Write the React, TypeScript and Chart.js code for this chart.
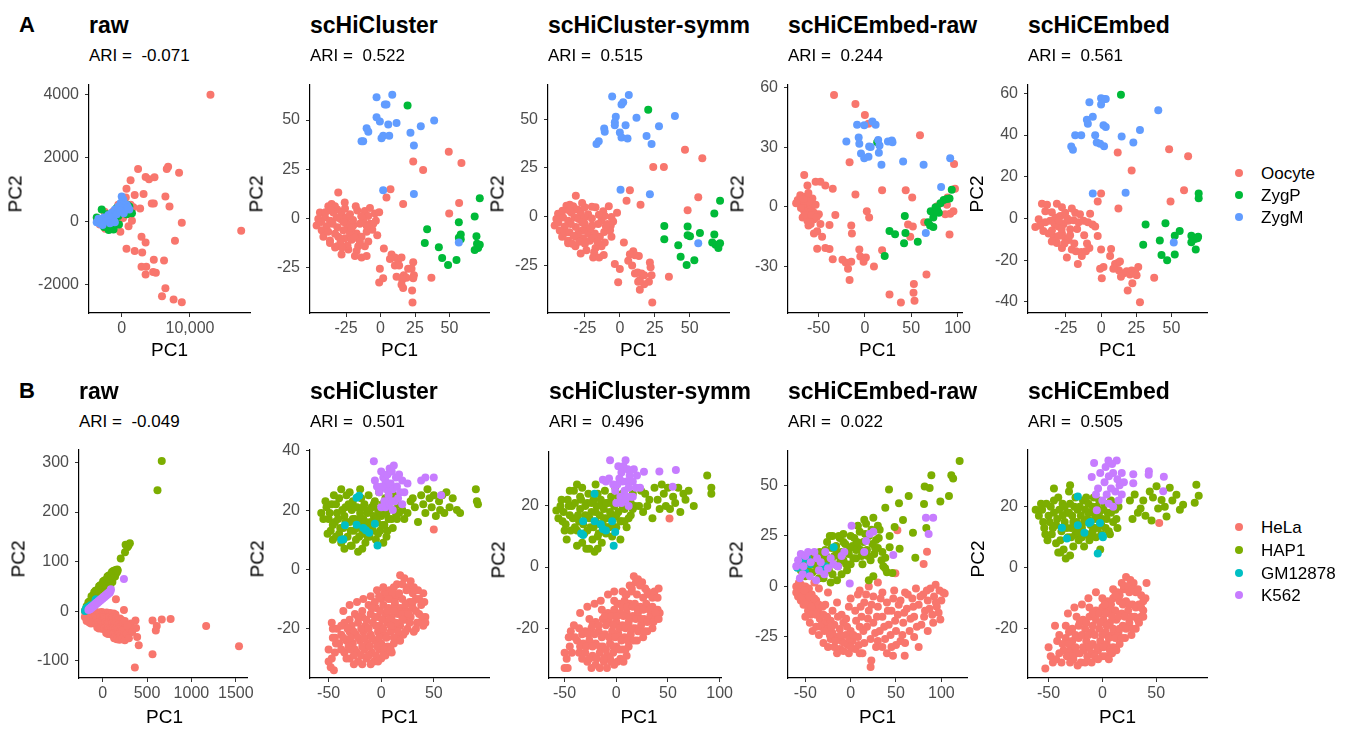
import React, { useEffect, useRef } from "react";
import { Chart, registerables } from "chart.js";
Chart.register(...registerables);

type P = [number, number];

const classesA = ["Oocyte", "ZygP", "ZygM"];
const classesB = ["HeLa", "HAP1", "GM12878", "K562"];
const methods = ["raw", "scHiCluster", "scHiCluster-symm", "scHiCEmbed-raw", "scHiCEmbed"];
const ariA = ["-0.071", "0.522", "0.515", "0.244", "0.561"];
const ariB = ["-0.049", "0.501", "0.496", "0.022", "0.505"];

// ---------------- Row A ----------------
// A1 raw
const a1Oocyte: P[] = [[13000,4000],[17500,-300],[2400,1650],[6600,1650],[6800,1720],[8400,1530],[1300,1300],[3500,1400],[4000,1330],[4800,1390],[700,1030],[1900,830],[3200,860],[600,750],[6400,780],[4400,560],[4700,560],[7000,470],[1700,440],[2700,400],[1300,520],[8800,-50],[1500,20],[1200,220],[-500,520],[-1200,320],[-500,-60],[-200,-330],[-1500,-150],[1000,-160],[2900,-490],[3500,-670],[700,-870],[1900,-940],[3000,-990],[7800,-620],[6200,-1240],[4700,-1220],[2900,-1440],[3600,-1440],[3500,-1680],[4600,-1600],[5000,-1630],[6400,-2120],[5900,-2370],[7600,-2470],[8800,-2560],[-2500,300],[-1800,120],[-3200,-100],[-800,240],[200,100],[-3600,20],[-2400,-240],[600,320]];
const a1ZygP: P[] = [[-3660,120],[-3170,-30],[-2440,-80],[-2200,220],[-1460,120],[-980,20],[-490,170],[150,300],[780,520],[1120,470],[-2930,370],[-1710,70],[-980,-130],[-2290,0],[-730,420],[730,220],[-2590,-180],[-1900,-280],[-1200,-260],[-400,-100],[1500,250]];
const a1ZygM: P[] = [[-3660,-30],[-3170,70],[-2590,120],[-1950,200],[-1460,270],[-980,370],[-490,470],[-150,580],[240,680],[730,520],[1120,370],[-2200,20],[-1220,120],[-730,220],[-3170,-80],[0,780],[490,420],[-1710,-60],[-2800,-120],[-3400,80],[-200,330],[300,250],[900,450],[-1000,-30]];
const a1XRange = [-4790, 18790];
const a1YRange = [-2900, 4320];
const a1XTicks = [0, 10000];
const a1XLabels = ["0", "10,000"];
const a1YTicks = [-2000, 0, 2000, 4000];
const a1YLabels = ["-2000", "0", "2000", "4000"];

// A2 scHiCluster
const a2Oocyte: P[] = [[49.5,33.8],[58.7,28.1],[23.7,28.9],[30.9,24.5],[7.2,14.7],[4.3,10.5],[16.4,7.2],[57,7.7],[49.8,2.3],
[-30.7,13.1],[-35.5,7.2],[-33.1,6.0],[-31.4,4.4],[-28.3,2.8],[-25.8,4.9],[-44.0,2.8],[-40.3,0.3],[-36.7,-1.3],[-31.9,0.3],[-29.0,-0.5],[-24.6,0.3],[-22.2,2.0],[-16.9,3.9],[-11.4,3.6],[-7.7,5.2],[-4.1,2.3],[-8.9,1.1],[-12.6,-1.3],[-15.0,-2.9],[-19.8,-3.8],[-23.4,-5.4],[-27.0,-6.2],[-31.4,-4.6],[-34.8,-2.9],[-39.1,-4.2],[-42.7,-6.2],[-46.4,-3.8],[-41.5,-9.5],[-36.7,-11.4],[-30.7,-9.5],[-25.8,-10.3],[-22.2,-7.8],[-17.4,-7.8],[-13.8,-9.5],[-10.1,-7.0],[-7.7,-2.9],[-3.4,-1.3],[-2.4,-8.7],[-8.9,-11.9],[-11.4,-14.4],[-16.2,-14.4],[-17.4,-16.8],[-18.6,-19.3],[-13.8,-20.1],[-10.1,-19.3],[-23.4,-16.0],[-28.3,-18.5],[-31.4,-14.4],[-36.7,-12.7],[-21.0,-11.1],[-5.3,-2.9],[-24.6,-2.9],[-34.3,2.8],[-37.9,6.0],[-45.2,-0.5],
[-38,-7],[-33,-8],[-27,-2],[-20,-1],[-14,1],[-18,6],[-26,8],[-21,-5],[-29,-12],[-33,-15],[-40,3],[-43,-2],[-24,-14],[-19,-10],[-6,-6],[-1,3],[-36,4],[-28,-15],[-15,-12],[-10,-4],
[2.4,-15.5],[-0.5,-25.8],[-1.0,-32.8],[1.9,-30.7],[8.0,-18.5],[10.4,-20.1],[12.8,-21.2],[15.2,-20.1],[10.4,-24.2],[13.5,-24.2],[16.9,-29.1],[18.8,-30.4],[20.0,-25.8],[15.7,-31.5],[16.4,-35.6],[23.7,-22.5],[22.5,-25.8],[24.2,-29.1],[23.7,-30.7],[22.9,-36.9],[23.2,-43.0],[36.9,-30.4],[6.8,-20.9],[15.2,-34.0],[11.6,-29.9]];
const a2ZygP: P[] = [[19.6,57.5],[72.0,10.1],[68.3,0.8],[56.8,-2.1],[33.8,-5.7],[32.1,-12.7],[42.3,-14.9],[56.8,-10.0],[58.2,-10.8],[58.2,-8.3],[69.6,-9.2],[70.0,-13.1],[70.8,-15.2],[68.3,-16.3],[72.0,-13.6],[44.7,-20.4],[49.0,-23.9],[55.1,-21.4]];
const a2ZygM: P[] = [[-2.9,61.6],[8.5,62.9],[3.1,58.0],[4.3,58.0],[-2.9,51.5],[-0.5,49.3],[5.6,47.7],[11.6,48.5],[-10.1,45.8],[-8.9,44.1],[-12.6,39.2],[-13.8,39.2],[0.7,40.7],[1.9,42.0],[6.3,42.0],[21.7,43.6],[29.2,46.9],[38.9,49.8],[24.2,37.1],[1.9,14.2],[24.2,12.3],[56.8,-12.4]];
const a2XRange = [-51.2, 78.7];
const a2YRange = [-48.4, 68.1];
const a2XTicks = [-25, 0, 25, 50];
const a2XLabels = ["-25", "0", "25", "50"];
const a2YTicks = [-25, 0, 25, 50];
const a2YLabels = ["-25", "0", "25", "50"];

// A3 scHiCluster-symm
const a3Oocyte: P[] = [[46.6,34.4],[59.0,30.0],[23.9,25.5],[31.5,25.5],[7.2,13.5],[4.8,8.1],[14.8,6.1],[56.1,9.9],[48.5,3.3],
[-31.5,10.7],[-35.8,6.1],[-33.4,5.3],[-30.3,3.6],[-28.0,2.0],[-25.1,4.8],[-44.2,1.5],[-40.6,-0.5],[-37.0,-2.1],[-32.3,-0.5],[-29.4,-1.3],[-25.1,-0.5],[-22.7,1.2],[-17.4,4.8],[-11.9,2.8],[-7.9,5.3],[-6.0,-0.2],[-10.8,0.3],[-13.1,-2.1],[-15.5,-3.8],[-19.8,-4.6],[-23.9,-6.3],[-27.0,-7.1],[-31.5,-5.4],[-35.1,-3.8],[-39.4,-5.1],[-43.0,-7.1],[-46.6,-4.6],[-41.3,-10.4],[-37.0,-12.4],[-31.1,-10.4],[-26.3,-11.2],[-22.7,-8.7],[-17.9,-8.7],[-14.3,-10.4],[-11.2,-7.9],[-8.8,-3.8],[-4.8,-2.5],[-6.0,-10.4],[-10.8,-13.3],[-13.1,-15.3],[-17.4,-16.2],[-18.4,-18.3],[-19.1,-21.1],[-14.8,-21.1],[-11.5,-19.8],[-23.9,-17.3],[-28.0,-19.0],[-31.8,-15.3],[-37.0,-13.7],[-21.5,-12.4],[-6.5,-4.6],[-25.1,-3.8],[-34.6,2.0],[-38.2,5.6],[-45.4,-1.3],[-39.4,-8.4],
[-36,-8],[-30,-9],[-27,-3],[-20,-1],[-15,1],[-20,5],[-27,7],[-21,-6],[-29,-13],[-34,-14],[-41,3],[-44,-3],[-25,-14],[-19,-11],[-7,-7],[-2,2],[-36,3],[-16,-13],[-10,-5],[-33,-10],
[2.9,-13.3],[-3.6,-24.4],[-1.2,-33.8],[0,-26.9],[6.0,-22.7],[9.6,-17.8],[10.8,-19.9],[13.6,-20.3],[8.8,-25.2],[10.8,-29.3],[12.7,-28.8],[15.5,-29.3],[17.4,-30.2],[14.3,-32.6],[14.3,-37.6],[21.5,-23.6],[22.0,-26.0],[22.7,-30.2],[20.8,-33.5],[17.4,-34.8],[23.2,-44.2],[35.1,-31.0],[7.2,-19.4],[13.1,-33.5]];
const a3ZygP: P[] = [[20.3,55.0],[71.7,8.2],[67.6,1.6],[48.5,-5.1],[31.8,-4.9],[31.8,-11.7],[41.8,-14.8],[48.5,-9.6],[50.2,-10.1],[57.3,-8.4],[67.6,-9.2],[66.1,-13.3],[68.5,-14.5],[70.5,-16.2],[71.7,-13.7],[43.5,-20.6],[47.8,-24.9],[53.3,-22.4]];
const a3ZygM: P[] = [[-5.5,61.8],[6.4,62.6],[2.4,58.8],[1.2,57.7],[-2.9,51.4],[-3.6,48.5],[4.1,47.0],[11.9,50.9],[-11.2,45.3],[-10.8,43.7],[-15.1,38.7],[-16.7,37.4],[0,43.2],[1.2,40.7],[5.5,40.2],[19.1,41.5],[28.0,46.5],[39.4,51.7],[22.7,37.4],[0.5,13.8],[21.5,11.5],[56.1,-13.7],[-3.6,47.0]];
const a3XRange = [-51.4, 78.1];
const a3YRange = [-49.6, 67.9];
const a3XTicks = [-25, 0, 25, 50];
const a3XLabels = ["-25", "0", "25", "50"];
const a3YTicks = [-25, 0, 25, 50];
const a3YLabels = ["-25", "0", "25", "50"];

// A4 scHiCEmbed-raw
const a4Oocyte: P[] = [[-33.3,56.2],[-10.2,51.7],[0,46.1],[3.9,41.8],[59.5,36.0],[96.3,21.5],[-16.5,22.5],[-65.5,16.1],[-53.2,12.7],[-48.0,12.7],[-42.7,10.8],[-34.7,9.2],[-62.0,10.8],[-69.7,5.9],[-72.5,3.5],[18.6,8.4],[-10.2,6.3],[44.1,8.4],[51.1,4.8],[-31.9,-4.0],[2.1,-2.1],[4.6,-5.3],[-38.2,-9.0],[-14.7,-9.3],[-14.0,-13.3],[46.6,-8.8],[51.8,-9.8],[49.0,-14.9],[89.3,4.7],[88.6,1.1],[92.1,-3.4],[86.8,-3.7],[95.6,-2.1],[91.4,-13.8],[-60.9,-9.3],[-51.5,-12.2],[-46.2,-14.9],[-51.5,-20.9],[-42.7,-20.6],[-38.2,-21.1],[-34.7,-26.2],[-24.2,-26.5],[-20.7,-27.8],[-14.7,-27.5],[-18.2,-31.0],[-16.5,-36.6],[-6.0,-21.4],[-4.9,-24.9],[1.1,-25.4],[-1.4,-27.5],[9.8,-29.9],[18.6,-21.7],[26.6,-43.9],[38.9,-47.9],[52.9,-38.7],[52.5,-43.1],[53.6,-47.1],[66.5,-33.9],[64.1,-7.7],[78.1,0.3],[97.3,9.2],
[-69.0,2.7],[-65.5,1.1],[-62.0,-0.5],[-58.5,1.1],[-65.5,-2.1],[-60.2,-2.9],[-56.7,4.3],[-67.2,-5.3],[-62.0,-6.9],[-55.0,-6.1],[-56.7,-2.1],[-53.2,1.1],[-69.0,-0.5],[-63.7,5.1],[-49.7,-3.7],[-48.0,-8.5],[-58.5,-8.5],[-74.2,1.9],[-60.2,2.7],[-55.0,-2.9],[-55.0,-13.3],[-64,-4],[-58,-4],[-52,-5],[-66,4],[-61,7]];
const a4ZygP: P[] = [[13.3,32.5],[26.6,-12.1],[32.6,-13.7],[43.1,-4.5],[43.8,-13.0],[42.3,-18.2],[57.1,-17.4],[21.4,-24.6],[68.3,-7.7],[70.4,-9.3],[73.9,-10.1],[71.1,-2.1],[74.6,-2.9],[76.3,-0.2],[79.8,-2.9],[81.6,1.9],[85.1,3.5],[88.6,4.0],[91.4,4.3],[93.8,8.7],[73.9,-5.3],[77.9,-1.3]];
const a4ZygM: P[] = [[-8.4,41.3],[-0.7,41.0],[8.1,42.9],[11.6,41.3],[-20.0,32.8],[-6.7,34.9],[-6.0,31.7],[-4.2,26.8],[-0.7,24.4],[3.9,25.2],[4.6,30.4],[14.4,33.6],[15.8,30.9],[15.1,27.2],[17.9,21.2],[24.9,32.9],[29.1,33.3],[29.8,32.5],[41.3,22.8],[63.4,21.2],[82.3,10.0],[92.1,24.4],[65.8,-13.0],[6.3,30.1]];
const a4XRange = [-83, 105];
const a4YRange = [-53.2, 61.4];
const a4XTicks = [-50, 0, 50, 100];
const a4XLabels = ["-50", "0", "50", "100"];
const a4YTicks = [-30, 0, 30, 60];
const a4YLabels = ["-30", "0", "30", "60"];

// A5 scHiCEmbed
const a5Oocyte: P[] = [[48.3,33.2],[61.8,29.9],[21.7,23.0],[11.8,31.6],[58.9,13.5],[49.3,8.1],[0,12.0],[-2.4,8.1],[12.3,4.8],
[-42.0,7.1],[-38.4,6.6],[-31.4,7.1],[-27.8,5.4],[-20.8,4.8],[-39.6,3.5],[-44.3,-0.3],[-46.7,-4.1],[-39.6,-1.8],[-36.1,-1.1],[-32.5,0.5],[-29.0,1.2],[-25.5,2.8],[-33.0,-2.6],[-30.2,-3.8],[-26.6,-2.6],[-23.1,-1.1],[-19.6,-0.8],[-16.0,-1.8],[-12.5,-1.1],[-7.8,2.3],[-9.4,-1.8],[-6.1,-2.9],[-4.2,-3.8],[-2.4,-8.4],[-37.3,-7.2],[-33.7,-8.7],[-30.2,-8.4],[-27.8,-7.2],[-25.5,-9.5],[-23.1,-10.3],[-31.4,-11.8],[-27.8,-14.1],[-20.8,-14.9],[-17.9,-15.7],[-14.1,-16.1],[-10.8,-15.7],[-8.3,-14.1],[-24.3,-18.7],[-16.5,-21.8],[-13.7,-18.0],[-21.9,-5.2],[-34.9,-5.7],[-43.2,-3.4],[-18.4,2.8],
[-35,3],[-28,-5],[-22,-8],[-17,-5],[-12,-8],[-26,-12],[-19,-12],[-41,-6],[-30,-1],[-15,2],[-10,-12],[-35,-11],[-24,0],
[0,-14.9],[-0.7,-24.1],[0.5,-28.7],[1.7,-23.3],[7.1,-14.6],[6.4,-18.0],[9.9,-21.8],[11.8,-21.3],[13.4,-20.6],[12.7,-24.9],[15.8,-26.4],[14.1,-27.9],[18.2,-25.3],[20.5,-26.9],[21.7,-24.9],[24.1,-25.3],[25.2,-27.2],[22.2,-31.0],[18.9,-34.5],[26.4,-23.3],[37.7,-28.4],[27.6,-40.2],[8.7,-24.1]];
const a5ZygP: P[] = [[14.1,59.3],[69.3,12.0],[69.3,9.7],[31.6,-2.9],[45.7,-2.3],[29.9,-12.6],[41.7,-10.6],[52.3,-8.3],[55.8,-6.0],[64.1,-8.3],[66.5,-9.8],[68.4,-9.5],[64.1,-11.4],[67.2,-14.9],[42.9,-17.5],[46.9,-20.0],[52.3,-17.2],[68.9,-8.7]];
const a5ZygM: P[] = [[-8.3,55.7],[0,57.6],[1.7,57.3],[3.3,57.3],[0,54.6],[-10.1,47.3],[-9.4,45.4],[-5.9,48.8],[-18.4,39.9],[-14.1,39.9],[-21.2,34.5],[-20.0,33.0],[-4.2,39.9],[-3.1,36.5],[-0.7,35.8],[1.7,44.7],[3.3,43.9],[2.1,34.7],[14.6,39.3],[22.9,36.5],[27.6,42.4],[40.6,51.9],[-5.9,12.0],[17.4,12.3],[51.6,-11.5]];
const a5XRange = [-51.9, 75.2];
const a5YRange = [-45.3, 64.2];
const a5XTicks = [-25, 0, 25, 50];
const a5XLabels = ["-25", "0", "25", "50"];
const a5YTicks = [-40, -20, 0, 20, 40, 60];
const a5YLabels = ["-40", "-20", "0", "20", "40", "60"];

// ---------------- Row B ----------------
// B1 raw
const b1HeLa: P[] = [[-195,-3],[-175,-2],[-155,-4],[-135,-2],[-115,-3],[-95,-4],[-75,-2],[-55,-3],[-35,-4],[-15,-2],[5,-3],[25,-4],[45,-3],[65,-5],[85,-4],[105,-6],[125,-5],[145,-7],
[-200,-12],[-185,-14],[-165,-12],[-145,-13],[-125,-14],[-105,-12],[-85,-13],[-65,-14],[-45,-12],[-25,-13],[-5,-14],[15,-12],[35,-13],[55,-14],[75,-12],[95,-15],[115,-13],[135,-16],[155,-14],[175,-17],[195,-15],[215,-18],
[-180,-20],[-150,-23],[-130,-25],[-110,-23],[-90,-24],[-70,-26],[-50,-23],[-30,-25],[-10,-24],[10,-26],[30,-23],[50,-25],[70,-24],[90,-26],[110,-24],[130,-27],[150,-25],[170,-28],[190,-26],[210,-29],[230,-25],
[-60,-33],[-40,-35],[-20,-34],[0,-36],[20,-35],[40,-37],[60,-34],[80,-36],[100,-38],[120,-35],[140,-37],[160,-39],[180,-36],[200,-40],[220,-38],
[40,-44],[60,-46],[80,-45],[100,-47],[120,-46],[140,-48],[160,-50],[180,-47],[200,-51],[240,-48],
[130,-55],[160,-57],[190,-58],[220,-56],[250,-59],
[250,-20],[270,-45],[300,-35],[320,-25],
[150,24],[240,2],[370,-19],[377,-34],[389,-52],[407,-69],[562,-19],[610,-30],[599,-39],[666,-17],[766,-16],[1166,-30],[1536,-71],[562,-87],[363,-114],[278,-29],[333,-42],[296,-55]];
const b1HAP1: P[] = [[-198,1],[-190,3],[-180,5],[-170,7],
[-180,10],[-165,12],[-150,10],[-135,13],[-120,14],
[-160,18],[-145,20],[-130,21],[-115,22],[-100,23],[-85,24],[-70,25],[-55,24],
[-125,30],[-110,31],[-95,32],[-80,33],[-65,33],[-50,34],[-35,35],[-20,35],[-5,36],[10,37],[25,38],[40,38],
[-95,38],[-80,41],[-65,42],[-50,43],[-35,44],[-20,45],[-5,46],[10,46],[25,47],[40,47],[55,48],[70,48],[85,49],
[-40,50],[-25,52],[-10,53],[5,54],[20,55],[35,56],[50,56],[65,57],[80,58],[95,58],[110,59],
[5,60],[20,62],[35,63],[50,64],[65,65],[80,66],[95,67],[110,68],[125,69],[140,70],
[55,70],[70,72],[85,73],[100,74],[115,75],[130,76],[145,77],[160,78],
[105,79],[120,81],[135,82],[150,83],[165,84],[170,82],
[204,106],[252,119],[278,129],[307,137],[259,134],[290,132],[618,244],[666,303]];
const b1GM12878: P[] = [[-198,0],[-190,3],[-185,6],[-175,4],[-170,8],[-160,6],[-150,9],[-140,8],[-135,12],[-125,10],[-75,24],[-80,22]];
const b1K562: P[] = [[-160,2],[-150,5],[-140,4],[-130,8],[-120,7],[-110,11],[-100,10],[-90,14],[-80,13],[-70,17],[-60,16],[-50,20],[-40,19],[-30,23],[-20,22],[-10,26],[0,25],[10,29],[20,28],[30,32],[40,31],[50,35],[60,34],[70,38],[80,37],[90,41],[93,44],[240,65]];
const b1XRange = [-266, 1628];
const b1YRange = [-135, 326];
const b1XTicks = [0, 500, 1000, 1500];
const b1XLabels = ["0", "500", "1000", "1500"];
const b1YTicks = [-100, 0, 100, 200, 300];
const b1YLabels = ["-100", "0", "100", "200", "300"];

// B2 scHiCluster
const b2HeLa: P[] = [[18,-2],[22,-3],[28,-4],[15,-5],
[8,-7],[12,-6],[25,-6],[30,-8],[35,-7],[40,-8],
[0,-10],[5,-9],[10,-10],[15,-9],[20,-10],[27,-11],[33,-10],[38,-12],
[-12,-12],[-5,-13],[2,-12],[7,-13],[13,-12],[18,-13],[24,-14],[30,-13],[36,-15],[42,-16],
[-25,-15],[-18,-16],[-10,-15],[-3,-16],[4,-15],[10,-16],[16,-15],[22,-17],[28,-16],[34,-18],[40,-19],
[-35,-18],[-28,-19],[-22,-18],[-15,-19],[-8,-18],[-1,-19],[6,-18],[12,-20],[18,-19],[25,-20],[31,-21],[37,-18],
[-42,-20],[-38,-22],[-30,-21],[-24,-22],[-17,-21],[-10,-22],[-3,-21],[3,-22],[9,-21],[15,-23],[21,-22],
[-40,-25],[-33,-24],[-27,-25],[-20,-24],[-13,-25],[-6,-24],[0,-25],[6,-26],[12,-25],
[-35,-28],[-29,-27],[-23,-28],[-16,-27],[-9,-28],[-2,-27],[4,-29],[10,-28],
[-30,-30],[-22,-31],[-14,-30],[-7,-31],[0,-30],
[-48,-33],[-45,-34],[-50,-27],[-46,-20],[-47,-18],
[20,-5],[24,-7],[31,-6],[11,-8],[17,-8],[3,-8],
[-6,-11],[-2,-9],[7,-10],[13,-11],[23,-12],[30,-11],[36,-10],[41,-11],
[-18,-14],[-9,-13],[-1,-14],[6,-14],[12,-14],[20,-15],[26,-15],[33,-14],[39,-16],
[-30,-17],[-22,-16],[-14,-17],[-6,-16],[1,-17],[8,-17],[14,-18],[20,-17],[27,-18],[33,-20],[42,-18],
[-38,-19],[-32,-20],[-26,-21],[-19,-20],[-12,-20],[-5,-19],[2,-20],[9,-19],[16,-21],[23,-21],
[-44,-23],[-36,-23],[-29,-23],[-22,-23],[-16,-23],[-9,-23],[-2,-23],[5,-23],[12,-23],[18,-24],
[-38,-27],[-31,-26],[-25,-27],[-18,-26],[-11,-26],[-4,-26],[3,-27],[9,-27],
[-33,-30],[-26,-29],[-19,-29],[-12,-29],[-5,-29],[2,-29],
[-26,-32],[-18,-32],[-10,-32],[-3,-31],
[-47,-30],[-50,-31],[-44,-28],[-43,-25],[-46,-23],
[-36,-14],[-30,-12],[-23,-11],[-17,-10],[-10,-9],[-4,-7],[2,-6],[50,13.5]];
const b2HAP1: P[] = [[-57,19],[-52,21],[-50,17],[-48,13],[-46,10],[-47,22],[-44,16],[-42,19],[-40,24],[-40,12],[-38,9],[-36,14],[-35,18],[-34,21],[-33,25],[-32,11],[-30,16],[-29,8],[-28,20],[-27,23],[-26,13],[-25,17],[-24,10],[-23,21],[-22,6],[-21,15],[-20,19],[-19,24],[-18,12],[-17,17],[-16,22],[-15,9],[-14,14],[-13,19],[-12,25],[-11,11],[-10,16],[-9,21],[-8,13],[-7,18],[-6,23],[-5,10],[-4,16],[-3,20],[-2,26],[-1,13],[0,18],[1,22],[2,9],[3,15],[4,24],[5,19],[6,13],[8,21],[10,17],[12,25],[14,19],[16,22],[-45,25],[-38,27],[-20,27],[-30,26],
[-55,17],[-53,23],[-51,12],[-49,19],[-46,15],[-43,11],[-43,22],[-41,17],[-39,14],[-37,20],[-36,10],[-34,16],[-31,22],[-29,13],[-27,17],[-25,21],[-23,14],[-21,11],[-19,17],[-17,21],[-15,16],[-13,11],[-11,20],[-9,14],[-7,22],[-5,17],[-3,12],[-1,19],[1,15],[3,19],[5,11],[7,17],[9,23],[11,14],[13,20],[15,17],[17,19],[-28,8],[-35,7],[-18,7],
[20,20],[25,19],[28,23],[32,21],[35,16],[38,25],[40,22],[42,19],[44,27],[46,24],[48,21],[50,25],[52,18],[55,23],[56,20],[58,25],[60,19],[62,26],[65,21],[68,24],[72,20],[75,19],[90,27],[92,22],[91,23],[30,24],[22,17]];
const b2GM12878: P[] = [[-23.4,24.2],[-21,24.8],[-34.5,14.9],[-36,10.2],[-38,10],[-23.4,15.1],[-17,14],[-14.6,13.2],[-11.4,12.4],[-6,15.4],[-3.5,8.1]];
const b2K562: P[] = [[-7,36.5],[0,33],[2,31],[4,30],[6,32],[8,34],[10,33],[12,35],[14,31],[9,29],[5,27],[7,25],[11,27],[13,23],[3,23],[0,21],[4,21],[8,22],[11,20],[-4,28],[-2,26],[-6,30],[15,28],[18,26],[20,30],[17,32],[16,24],[10,23],[25,29],[22,26],[38,30],[42,31],[50,31],[57,25],[20,22],[6,29],[1,28]];
const b2XRange = [-67.7, 102.5];
const b2YRange = [-36.6, 40.4];
const b2XTicks = [-50, 0, 50];
const b2XLabels = ["-50", "0", "50"];
const b2YTicks = [-20, 0, 20, 40];
const b2YLabels = ["-20", "0", "20", "40"];

// B3 scHiCluster-symm
const b3HeLa: P[] = [[17,-3],[21,-4],[25,-5],[13,-6],[28,-7],
[6,-8],[10,-9],[15,-8],[20,-9],[26,-10],[32,-9],[37,-8],[41,-7],
[-2,-11],[3,-12],[8,-11],[13,-12],[18,-12],[23,-13],[29,-12],[35,-13],[40,-14],
[-14,-14],[-8,-15],[-2,-14],[4,-15],[10,-15],[16,-16],[21,-15],[27,-17],[33,-16],[38,-17],[42,-15],
[-26,-17],[-20,-18],[-13,-17],[-7,-18],[0,-18],[6,-19],[12,-18],[18,-20],[24,-19],[30,-21],[35,-20],
[-36,-20],[-30,-21],[-24,-20],[-17,-21],[-11,-22],[-4,-21],[2,-22],[8,-23],[14,-22],[20,-24],[26,-23],
[-41,-19],[-38,-24],[-32,-25],[-26,-24],[-20,-25],[-13,-26],[-6,-25],[0,-26],[6,-27],[12,-26],
[-36,-28],[-30,-28],[-23,-29],[-16,-28],[-9,-29],[-3,-28],[4,-30],[10,-29],
[-28,-31],[-20,-32],[-12,-31],[-6,-30],
[-50,-33],[-47,-33],[-50,-28],[-44,-21],[-45,-26],
[19,-5],[23,-6],[15,-7],[30,-8],[9,-9],[35,-10],[40,-10],
[1,-12],[6,-13],[11,-13],[16,-13],[21,-14],[26,-14],[32,-14],[38,-15],
[-11,-16],[-5,-16],[1,-16],[7,-16],[13,-17],[19,-17],[24,-17],[30,-18],[36,-18],[41,-17],
[-23,-19],[-17,-19],[-10,-19],[-3,-19],[3,-20],[9,-20],[15,-20],[21,-21],[27,-21],
[-33,-22],[-27,-22],[-21,-22],[-14,-23],[-7,-23],[-1,-23],[5,-24],[11,-24],[17,-24],
[-35,-26],[-29,-26],[-23,-26],[-16,-26],[-10,-27],[-3,-26],[3,-27],[9,-27],
[-33,-30],[-26,-30],[-19,-30],[-12,-30],[-5,-31],[1,-31],[7,-31],
[-24,-33],[-16,-33],[-9,-33],[-2,-32],
[-48,-30],[-43,-28],[-46,-23],[-40,-23],
[-35,-15],[-28,-13],[-21,-12],[-15,-11],[-8,-9],[-2,-8],[51.5,15.9]];
const b3HAP1: P[] = [[-58,18.5],[-54,20],[-52,15],[-50,12],[-48,9],[-47,22],[-45,17],[-43,20],[-41,25],[-40,13],[-38,7],[-36,15],[-35,19],[-34,22],[-33,26],[-31,11],[-30,17],[-29,6],[-28,21],[-27,24],[-25,13],[-24,18],[-23,9],[-22,22],[-21,5],[-20,15],[-19,20],[-18,24],[-17,11],[-16,17],[-15,22],[-14,8],[-13,14],[-12,19],[-11,25],[-10,11],[-9,16],[-8,21],[-7,13],[-6,18],[-5,23],[-4,10],[-3,16],[-2,20],[-1,26],[0,13],[2,18],[3,22],[4,9],[5,15],[6,24],[8,19],[10,13],[12,21],[14,17],[16,24],[18,20],[-45,25],[-38,27],[-20,27],
[-56,16],[-53,22],[-51,18],[-49,14],[-46,20],[-44,12],[-42,16],[-40,21],[-38,12],[-37,17],[-35,23],[-32,14],[-30,20],[-28,12],[-26,16],[-24,21],[-22,13],[-20,18],[-18,10],[-16,14],[-14,20],[-12,16],[-10,21],[-8,13],[-6,16],[-4,21],[-2,13],[0,17],[2,23],[4,15],[6,20],[8,15],[10,22],[12,16],[14,21],[16,19],[-33,8],[-26,6],[-18,6],
[22,20],[26,18],[28,24],[32,22],[35,16],[37,26],[40,22],[42,19],[44,27],[46,24],[48,20],[50,26],[52,19],[55,23],[57,21],[60,26],[62,18],[65,24],[67,22],[70,25],[75,20],[88,30],[92,26],[92,24],[30,20],[24,25]];
const b3GM12878: P[] = [[-21,24],[-32,15],[-34,11],[-32,10.5],[-21,15],[-15,14],[-13,12.5],[-10,12],[-4,15],[-1,11.5],[-2.5,7]];
const b3K562: P[] = [[-6,35],[2,33],[5,31],[7,33],[9,35],[11,32],[13,30],[10,28],[6,28],[8,25],[12,26],[14,23],[4,23],[0,21],[5,21],[9,22],[12,20],[-3,27],[-1,25],[-7,29],[-13,28.6],[16,28],[19,26],[20,30],[17,32],[16,23],[10,23],[26.8,31.2],[23,26],[41.7,31.3],[57.7,31.8],[54.6,26.3],[3,29],[1,27],[-10,28]];
const b3XRange = [-65.1, 101.5];
const b3YRange = [-36.3, 37.8];
const b3XTicks = [-50, 0, 50, 100];
const b3XLabels = ["-50", "0", "50", "100"];
const b3YTicks = [-20, 0, 20];
const b3YLabels = ["-20", "0", "20"];

// B4 scHiCEmbed-raw
const b4HeLa: P[] = [[-60,0],[-57,-2],[-55,1],[-53,-3],[-50,0],[-48,-4],[-46,-1],[-58,-5],[-55,-7],[-52,-9],[-49,-6],[-45,-8],[-43,-4],[-40,-10],[-47,-12],[-44,-14],[-41,-13],[-38,-7],[-36,-12],[-34,-16],[-30,-14],[-32,-19],[-28,-18],[-25,-21],[-22,-17],[-20,-23],[-18,-19],[-15,-25],[-12,-21],[-10,-27],[-8,-18],[-5,-24],[-3,-29],[0,-22],[2,-27],[5,-31],[8,-25],[10,-20],[-35,-24],[-30,-28],[-25,-30],[-22,-26],[-18,-30],[-12,-31],[-38,-20],[-28,-9],[-20,-12],[-15,-8],[-10,-14],[-5,-16],[-2,-10],[0,-6],[5,-12],[8,-4],[12,-15],[15,-8],[18,-20],[20,-12],[22,-26],[25,-5],[25,-18],[28,-30],[30,-10],[32,-22],[35,-15],[35,-3],[38,-26],[40,-8],[42,-19],[45,-12],[45,-30],[48,-2],[50,-22],[52,-14],[55,-7],[55,-27],[58,-18],[60,-3],[62,-11],[65,-22],[68,-6],[70,-15],[72,-1],[75,-9],[78,-19],[80,-4],[82,-12],[85,-7],[88,-1],[90,-14],[92,-5],[95,-10],[98,-2],[100,-7],[20,0],[30,2],[10,-2],[-35,-1],[-40,2],[-25,-3],[15,-28],[10,-33],[-2,-33],[40,-33],[-50,-15],[-42,-22],[-45,-18],[60,-28],[70,-25],[75,-30],[85,-22],
[-60,-3],[-57,2],[-54,-5],[-51,-2],[-49,-9],[-46,-5],[-43,-10],[-40,-6],[-38,-14],[-35,-9],[-33,-20],[-31,-10],[-29,-22],[-26,-15],[-23,-24],[-21,-20],[-17,-27],[-14,-15],[-11,-24],[-7,-28],[-4,-20],[-1,-26],[3,-24],[6,-17],[9,-29],[11,-10],[14,-22],[17,-4],[19,-16],[23,-9],[27,-23],[29,-15],[33,-6],[37,-20],[41,-12],[44,-24],[47,-6],[49,-17],[53,-9],[57,-24],[59,-13],[63,-4],[66,-16],[69,-10],[73,-20],[77,-5],[81,-15],[84,-2],[87,-11],[91,-18],[94,-8],[97,-13],[102,-3],[30,-27],[35,-30],[50,-29],[-8,-32],[-15,-33],[0,-30],[13,-33],
[51.5,27.8],[84.2,17.1],[80.5,11.1],[49.3,6.5],[22,-39.8],[22.8,-36.7],[46.7,-34.3],[59.6,-34.3],[98.9,-16.4],[103.7,-3.5],[93.7,0.8]];
const b4HAP1: P[] = [[-57,12],[-55,8],[-53,15],[-50,5],[-48,10],[-45,13],[-42,7],[-40,16],[-38,11],[-35,4],[-33,14],[-30,9],[-28,18],[-25,12],[-23,25],[-20,6],[-18,15],[-16,20],[-14,10],[-12,24],[-10,17],[-8,13],[-6,21],[-4,8],[-2,16],[0,11],[2,20],[4,24],[6,14],[8,19],[10,27],[12,15],[14,22],[15,33],[17,31],[18,18],[20,25],[22,13],[24,21],[26,16],[28,23],[30,19],[32,28],[34,13],[36,10],[-20,25],[-13,25],[38,9],[40,7],[20,3],[25,5],[-15,3],[-22,2],[0,25],[6,18],
[-54,10],[-51,13],[-47,8],[-44,15],[-41,11],[-37,8],[-34,17],[-31,12],[-27,15],[-24,8],[-21,19],[-18,11],[-15,17],[-11,13],[-8,22],[-5,11],[-1,19],[3,14],[7,22],[11,18],[13,11],[16,26],[19,15],[23,28],[27,19],[31,24],[35,17],[-26,22],[-8,26],[8,30],[-30,4],[-10,6],
[120.2,62.1],[111,55],[113,53.4],[108.4,44.7],[98.9,42],[81.6,49.5],[87.1,48.7],[89,55],[80.9,40.8],[83.4,28.9],[64,44.7],[53.3,41.2],[57.7,32.9],[48.5,29.4],[42.3,47.9],[38.2,38.9],[43,25],[38.2,14.2],[54,18.6],[43,19.4],[46,6.6],[68.7,26.5],[71.3,14.2],[30,30],[25,34]];
const b4GM12878: P[] = [[-58.8,9.2],[-55,12],[-50.7,14.7],[-48,14],[-50,7],[-30.5,9.2],[-28,10],[-18.7,19.4],[-45,11]];
const b4K562: P[] = [[-58,13],[-55,16],[-53,6],[-52,10],[-50,15],[-47,17],[-44,12],[-40,17],[-37,14],[-35,8],[-33,12],[-29,6],[-28,17],[-25,9],[-22,14],[-19,11],[-14,10],[-10,15],[-7,17],[-38,3],[-45,5],[-1,1.5],[1,30],[15,17],[17,22.5],[21,26],[25,27],[47,15.5],[83,34],[91,34],[86,26],[-60,10],[-56,4]];
const b4XRange = [-69.1, 128.3];
const b4YRange = [-45.3, 67.2];
const b4XTicks = [-50, 0, 50, 100];
const b4XLabels = ["-50", "0", "50", "100"];
const b4YTicks = [-25, 0, 25, 50];
const b4YLabels = ["-25", "0", "25", "50"];

// B5 scHiCEmbed
const b5HeLa: P[] = [[22,-3],[26,-4],[29,-5],[18,-5],[41,-5],
[10,-7],[14,-8],[20,-7],[25,-8],[31,-8],[36,-9],[40,-10],
[0,-10],[5,-11],[10,-10],[16,-11],[22,-11],[28,-12],[34,-12],[38,-14],
[-12,-13],[-6,-14],[0,-13],[6,-14],[12,-14],[18,-15],[24,-14],[30,-16],[36,-16],
[-24,-16],[-18,-17],[-12,-16],[-6,-17],[1,-17],[7,-18],[13,-17],[19,-19],[25,-18],[31,-20],[38,-16],
[-34,-19],[-28,-20],[-22,-19],[-16,-20],[-10,-21],[-3,-20],[3,-21],[9,-22],[15,-21],[21,-23],[27,-22],
[-44,-19],[-40,-22],[-34,-23],[-28,-24],[-22,-23],[-15,-24],[-9,-25],[-2,-24],[4,-25],[10,-26],[16,-25],
[-36,-27],[-30,-27],[-24,-28],[-17,-27],[-10,-28],[-4,-27],[3,-29],[9,-28],
[-46,-31],[-50,-26],[-53,-33],[-27,-30],[-20,-31],
[20,-6],[24,-6],[28,-7],[33,-7],[16,-9],[12,-9],[38,-11],[8,-12],[2,-12],[19,-12],[25,-12],[31,-13],[36,-13],
[-9,-15],[-3,-15],[3,-15],[9,-16],[15,-16],[21,-16],[27,-16],[33,-17],
[-21,-18],[-15,-18],[-9,-19],[-2,-18],[4,-19],[10,-20],[16,-20],[22,-20],[28,-20],[34,-18],
[-31,-21],[-25,-22],[-19,-22],[-13,-22],[-7,-22],[0,-22],[6,-23],[12,-23],[18,-23],
[-42,-24],[-37,-25],[-31,-25],[-25,-26],[-18,-26],[-12,-26],[-5,-26],[1,-26],[7,-27],[13,-27],
[-40,-28],[-33,-29],[-27,-29],[-21,-28],[-14,-29],[-7,-29],[0,-29],[6,-30],
[-48,-29],[-43,-30],[-38,-31],[-30,-31],[-23,-32],[-16,-31],[-10,-31],[-4,-30],
[-32,-15],[-26,-13],[-19,-12],[-13,-10],[-6,-8],[52.8,14.7]];
const b5HAP1: P[] = [[-62,19],[-57,21],[-55,15],[-53,11],[-51,9],[-50,17],[-48,20],[-46,13],[-45,22],[-43,8],[-42,16],[-40,19],[-39,5],[-38,12],[-37,21],[-35,15],[-34,3],[-33,18],[-32,10],[-31,25],[-30,21],[-29,13],[-28,17],[-27,7],[-26,20],[-25,11],[-24,15],[-23,19],[-22,9],[-20,17],[-19,13],[-18,22],[-17,7],[-16,19],[-15,11],[-14,16],[-13,21],[-12,9],[-11,14],[-10,18],[-9,12],[-8,23],[-7,16],[-6,10],[-5,20],[-4,13],[-3,18],[-2,6],[-1,11],[0,16],[2,21],[3,13],[5,18],[7,11],[8,22],[10,15],[12,19],[14,13],[15,20],[-45,26],[-30,27],
[-59,17],[-56,19],[-54,13],[-52,21],[-49,15],[-47,11],[-45,18],[-43,14],[-41,23],[-39,9],[-37,17],[-35,20],[-33,13],[-31,18],[-29,10],[-27,15],[-25,23],[-23,12],[-21,20],[-19,10],[-17,15],[-15,23],[-13,18],[-11,11],[-9,20],[-7,13],[-5,17],[-3,22],[-1,14],[1,19],[4,16],[6,12],[8,18],[11,21],[13,16],[-36,6],[-30,4],[-41,5],
[25.6,22],[30,24],[33,18],[35.5,19.4],[38,22],[40,17],[45.7,15.5],[47,23],[50.3,26.7],[51.8,19.4],[55,22.2],[58,20],[59.6,16.8],[62.6,26.2],[65,22],[68.8,23.9],[72,19],[75,20.6],[85.8,21.3],[87.3,27.2],[89.5,23.6],[44,25],[28,16]];
const b5GM12878: P[] = [[-22.8,23.3],[-37.6,13.1],[-33,9.6],[-22.8,13.9],[-16.7,11.5],[-12.3,14.7],[-11,15],[-2.2,14.7],[0,10.5],[0.5,10],[-4.3,4.7]];
const b5K562: P[] = [[-7.7,34.3],[5.6,35.1],[13.3,35.1],[9,34],[-9.9,29.7],[-2,31],[2,28],[6,30],[10,31],[14,29],[16,27],[12,25],[8,26],[4,24],[0,22],[6,21],[10,20],[15,22],[18,24],[-4,26],[-6,24],[20,28],[28.7,30.6],[28.7,27.7],[43.2,31.6],[43,30.5],[57.1,29.8],[56.5,25.1],[-5.2,18.8],[3,33],[18,31]];
const b5XRange = [-69.1, 97.2];
const b5YRange = [-36.1, 38.7];
const b5XTicks = [-50, 0, 50];
const b5XLabels = ["-50", "0", "50"];
const b5YTicks = [-20, 0, 20];
const b5YLabels = ["-20", "0", "20"];

// ---------------- rendering ----------------
const FONT = "'Liberation Sans', Arial, Helvetica, sans-serif";
const COLORS_A = ["#F8766D", "#00BA38", "#619CFF"];
const COLORS_B = ["#F8766D", "#7CAE00", "#00BFC4", "#C77CFF"];
const PAD_L = 70, PAD_T = 6, PAD_R = 6, PAD_B = 40;

type Geom = { L: number; T: number; R: number; B: number };

function axisCfg(range: number[], ticks: number[], labels: string[], isX: boolean) {
  return {
    type: "linear",
    min: range[0],
    max: range[1],
    afterFit: (s: any) => { if (isX) s.height = PAD_B; else s.width = PAD_L; },
    afterBuildTicks: (s: any) => { s.ticks = ticks.map((v) => ({ value: v })); },
    ticks: {
      autoSkip: false, maxRotation: 0, minRotation: 0,
      padding: isX ? 2 : 6,
      color: "#4D4D4D",
      font: { size: 16, family: FONT },
      callback: (v: number) => { const i = ticks.indexOf(v); return i >= 0 ? labels[i] : ""; },
    },
    grid: { display: true, drawOnChartArea: false, drawTicks: true, tickLength: 4, color: "#333333", lineWidth: 1 },
    border: { display: true, color: "#000000", width: 1.2 },
  };
}

function Panel(props: { g: Geom; series: P[][]; colors: string[]; xr: number[]; yr: number[]; xt: number[]; xl: string[]; yt: number[]; yl: string[] }) {
  const { g, series, colors, xr, yr, xt, xl, yt, yl } = props;
  const ref = useRef<HTMLCanvasElement>(null);
  const w = g.R - g.L + PAD_L + PAD_R;
  const h = g.B - g.T + PAD_T + PAD_B;
  useEffect(() => {
    const chart = new Chart(ref.current as HTMLCanvasElement, {
      type: "scatter",
      data: {
        datasets: series.map((s, i) => ({
          data: s.map(([x, y]) => ({ x, y })),
          backgroundColor: colors[i],
          borderWidth: 0,
          pointRadius: 4,
          pointHoverRadius: 4,
          order: series.length - i,
        })),
      },
      options: {
        animation: false,
        responsive: false,
        events: [],
        layout: { padding: { top: PAD_T, right: PAD_R, left: 0, bottom: 0 } },
        plugins: { legend: { display: false }, tooltip: { enabled: false } },
        scales: {
          x: axisCfg(xr, xt, xl, true),
          y: axisCfg(yr, yt, yl, false),
        },
      } as any,
    });
    return () => chart.destroy();
  }, []);
  return (
    <canvas
      ref={ref}
      width={w}
      height={h}
      style={{ position: "absolute", left: g.L - PAD_L, top: g.T - PAD_T, width: w, height: h, display: "block" }}
    />
  );
}

function Txt(props: { x: number; y: number; size: number; bold?: boolean; center?: boolean; children: any }) {
  const { x, y, size, bold, center, children } = props;
  return (
    <div
      style={{
        position: "absolute", left: x, top: y - 0.8465 * size, fontSize: size, lineHeight: `${size}px`,
        fontWeight: bold ? 700 : 400, whiteSpace: "pre", color: "#000",
        transform: center ? "translateX(-50%)" : undefined, fontFamily: FONT,
      }}
    >
      {children}
    </div>
  );
}

function VTxt(props: { x: number; y: number; size: number; children: any }) {
  return (
    <div
      style={{
        position: "absolute", left: props.x, top: props.y, fontSize: props.size, lineHeight: `${props.size}px`,
        whiteSpace: "pre", transform: "translate(-50%,-50%) rotate(-90deg)", fontFamily: FONT, color: "#000",
      }}
    >
      {props.children}
    </div>
  );
}

function Legend(props: { x: number; ys: number[]; labels: string[]; colors: string[] }) {
  return (
    <>
      {props.labels.map((lab, i) => (
        <React.Fragment key={lab}>
          <div style={{ position: "absolute", left: props.x - 4, top: props.ys[i] - 4, width: 8, height: 8, borderRadius: 4, background: props.colors[i] }} />
          <div style={{ position: "absolute", left: props.x + 22, top: props.ys[i], transform: "translateY(-50%)", fontSize: 17, lineHeight: "17px", fontFamily: FONT, color: "#000" }}>{lab}</div>
        </React.Fragment>
      ))}
    </>
  );
}

export default function App() {
  const geomA: Geom[] = [
    { L: 89, T: 75, R: 250, B: 313 },
    { L: 310, T: 75, R: 489, B: 313 },
    { L: 548, T: 75, R: 729, B: 313 },
    { L: 788, T: 75, R: 967, B: 313 },
    { L: 1028, T: 75, R: 1207, B: 313 },
  ];
  const geomB: Geom[] = [
    { L: 79, T: 440, R: 250, B: 678 },
    { L: 310, T: 440, R: 489, B: 678 },
    { L: 549, T: 442, R: 729, B: 678 },
    { L: 788, T: 441, R: 967, B: 678 },
    { L: 1028, T: 440, R: 1207, B: 678 },
  ];
  const pc2A = [15, 256, 497, 737, 976];
  const pc2B = [18, 257, 498, 736, 977];

  const panelsA = [
    { s: [a1Oocyte, a1ZygP, a1ZygM], xr: a1XRange, yr: a1YRange, xt: a1XTicks, xl: a1XLabels, yt: a1YTicks, yl: a1YLabels },
    { s: [a2Oocyte, a2ZygP, a2ZygM], xr: a2XRange, yr: a2YRange, xt: a2XTicks, xl: a2XLabels, yt: a2YTicks, yl: a2YLabels },
    { s: [a3Oocyte, a3ZygP, a3ZygM], xr: a3XRange, yr: a3YRange, xt: a3XTicks, xl: a3XLabels, yt: a3YTicks, yl: a3YLabels },
    { s: [a4Oocyte, a4ZygP, a4ZygM], xr: a4XRange, yr: a4YRange, xt: a4XTicks, xl: a4XLabels, yt: a4YTicks, yl: a4YLabels },
    { s: [a5Oocyte, a5ZygP, a5ZygM], xr: a5XRange, yr: a5YRange, xt: a5XTicks, xl: a5XLabels, yt: a5YTicks, yl: a5YLabels },
  ];
  const panelsB = [
    { s: [b1HeLa, b1HAP1, b1GM12878, b1K562], xr: b1XRange, yr: b1YRange, xt: b1XTicks, xl: b1XLabels, yt: b1YTicks, yl: b1YLabels },
    { s: [b2HeLa, b2HAP1, b2GM12878, b2K562], xr: b2XRange, yr: b2YRange, xt: b2XTicks, xl: b2XLabels, yt: b2YTicks, yl: b2YLabels },
    { s: [b3HeLa, b3HAP1, b3GM12878, b3K562], xr: b3XRange, yr: b3YRange, xt: b3XTicks, xl: b3XLabels, yt: b3YTicks, yl: b3YLabels },
    { s: [b4HeLa, b4HAP1, b4GM12878, b4K562], xr: b4XRange, yr: b4YRange, xt: b4XTicks, xl: b4XLabels, yt: b4YTicks, yl: b4YLabels },
    { s: [b5HeLa, b5HAP1, b5GM12878, b5K562], xr: b5XRange, yr: b5YRange, xt: b5XTicks, xl: b5XLabels, yt: b5YTicks, yl: b5YLabels },
  ];

  return (
    <div style={{ position: "absolute", left: 0, top: 0, width: 1349, height: 729, background: "#fff", overflow: "hidden", fontFamily: FONT }}>
      <Txt x={19} y={33} size={22} bold>A</Txt>
      <Txt x={19} y={399} size={22} bold>B</Txt>
      {panelsA.map((p, i) => (
        <React.Fragment key={"a" + i}>
          <Txt x={geomA[i].L} y={33} size={23} bold>{methods[i]}</Txt>
          <Txt x={geomA[i].L} y={61.5} size={17}>{"ARI =  " + ariA[i]}</Txt>
          <Panel g={geomA[i]} series={p.s} colors={COLORS_A} xr={p.xr} yr={p.yr} xt={p.xt} xl={p.xl} yt={p.yt} yl={p.yl} />
          <Txt x={(geomA[i].L + geomA[i].R) / 2} y={356.5} size={19} center>PC1</Txt>
          <VTxt x={pc2A[i]} y={(geomA[i].T + geomA[i].B) / 2} size={19}>PC2</VTxt>
        </React.Fragment>
      ))}
      {panelsB.map((p, i) => (
        <React.Fragment key={"b" + i}>
          <Txt x={geomB[i].L} y={399} size={23} bold>{methods[i]}</Txt>
          <Txt x={geomB[i].L} y={427} size={17}>{"ARI =  " + ariB[i]}</Txt>
          <Panel g={geomB[i]} series={p.s} colors={COLORS_B} xr={p.xr} yr={p.yr} xt={p.xt} xl={p.xl} yt={p.yt} yl={p.yl} />
          <Txt x={(geomB[i].L + geomB[i].R) / 2} y={723} size={19} center>PC1</Txt>
          <VTxt x={pc2B[i]} y={(geomB[i].T + geomB[i].B) / 2} size={19}>PC2</VTxt>
        </React.Fragment>
      ))}
      <Legend x={1239} ys={[172.7, 195, 217.3]} labels={classesA} colors={COLORS_A} />
      <Legend x={1239} ys={[527.3, 550, 572.7, 595]} labels={classesB} colors={COLORS_B} />
    </div>
  );
}
